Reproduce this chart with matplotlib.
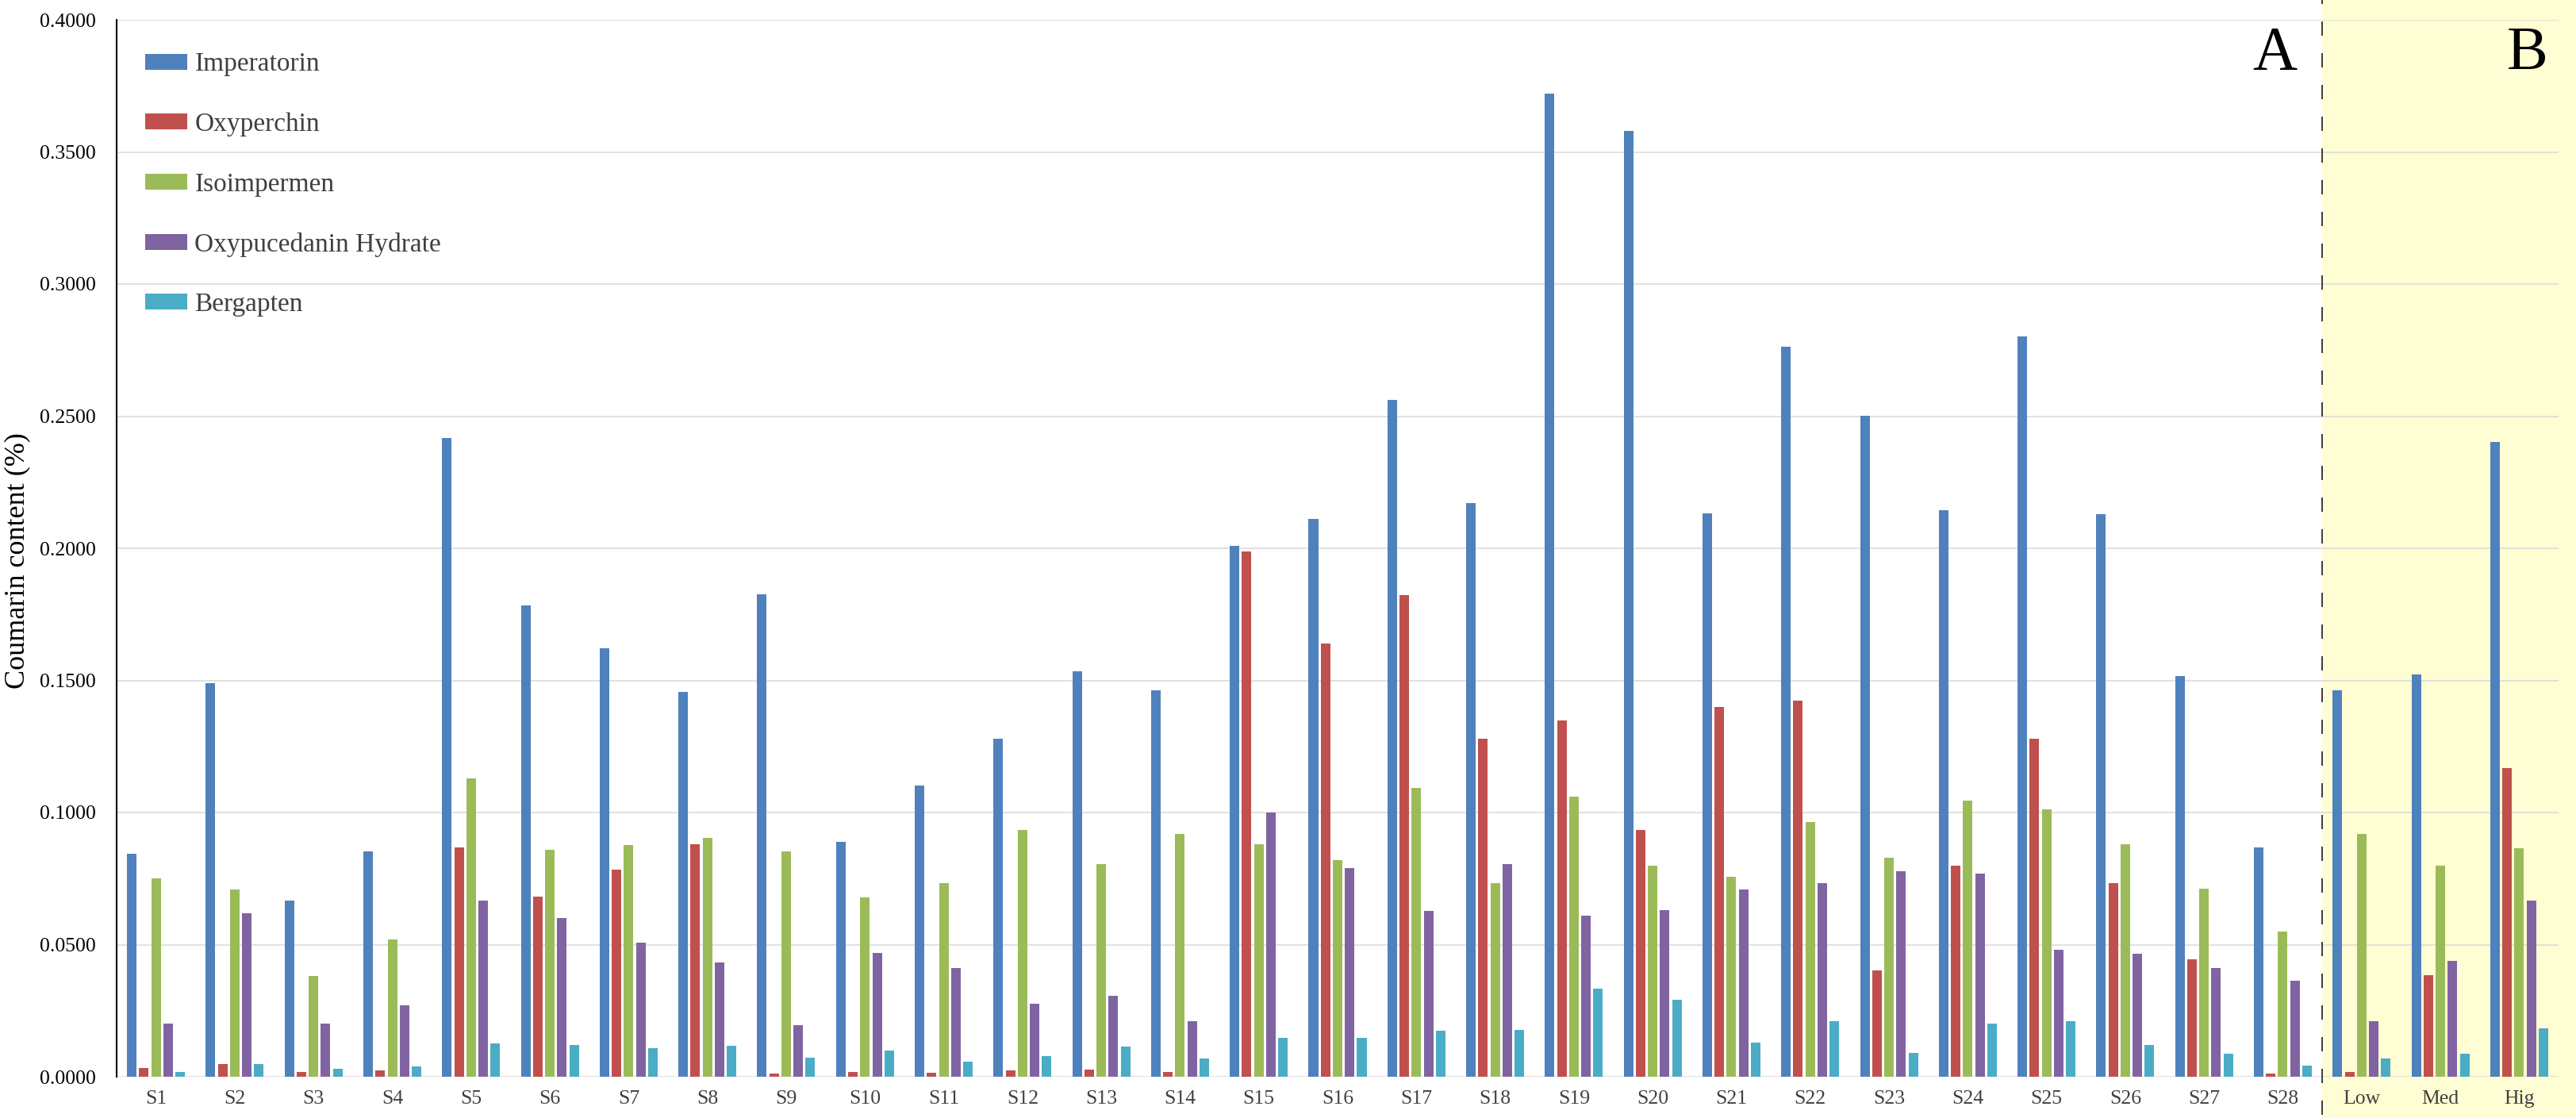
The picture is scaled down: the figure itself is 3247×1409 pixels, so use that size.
import numpy as np
import matplotlib
matplotlib.use("Agg")
import matplotlib.pyplot as plt
from matplotlib.patches import Rectangle
import matplotlib.transforms as mtransforms

plt.rcParams['font.family'] = ['Liberation Serif', 'DejaVu Serif']

# ------------------ DATOS ------------------
categorias = ["S%d" % i for i in range(1, 29)] + ["Low", "Med", "Hig"]

imperatorin = [0.0844, 0.1490, 0.0668, 0.0852, 0.2418, 0.1784, 0.1623, 0.1456, 0.1825, 0.0889,
               0.1102, 0.1278, 0.1534, 0.1461, 0.2008, 0.2110, 0.2563, 0.2170, 0.3722, 0.3580,
               0.2132, 0.2763, 0.2501, 0.2143, 0.2803, 0.2129, 0.1518, 0.0868,
               0.1461, 0.1523, 0.2402]
oxyperchin = [0.0032, 0.0049, 0.0019, 0.0024, 0.0868, 0.0682, 0.0784, 0.0881, 0.0013, 0.0019,
              0.0016, 0.0024, 0.0027, 0.0019, 0.1989, 0.1639, 0.1822, 0.1278, 0.1348, 0.0933,
              0.1399, 0.1423, 0.0402, 0.0798, 0.1280, 0.0733, 0.0445, 0.0013,
              0.0019, 0.0383, 0.1167]
isoimpermen = [0.0752, 0.0709, 0.0380, 0.0520, 0.1130, 0.0860, 0.0876, 0.0903, 0.0854, 0.0679,
               0.0733, 0.0935, 0.0806, 0.0919, 0.0881, 0.0819, 0.1094, 0.0733, 0.1059, 0.0800,
               0.0757, 0.0965, 0.0830, 0.1046, 0.1013, 0.0881, 0.0712, 0.0550,
               0.0919, 0.0798, 0.0865]
oxypucedanin = [0.0202, 0.0620, 0.0200, 0.0270, 0.0666, 0.0601, 0.0507, 0.0431, 0.0194, 0.0469,
                0.0410, 0.0275, 0.0305, 0.0210, 0.1000, 0.0790, 0.0628, 0.0806, 0.0609, 0.0631,
                0.0709, 0.0733, 0.0779, 0.0768, 0.0480, 0.0466, 0.0410, 0.0364,
                0.0210, 0.0437, 0.0668]
bergapten = [0.0019, 0.0049, 0.0030, 0.0038, 0.0127, 0.0119, 0.0108, 0.0116, 0.0073, 0.0100,
             0.0057, 0.0078, 0.0113, 0.0070, 0.0148, 0.0148, 0.0173, 0.0178, 0.0332, 0.0291,
             0.0129, 0.0210, 0.0089, 0.0202, 0.0210, 0.0121, 0.0086, 0.0043,
             0.0070, 0.0086, 0.0183]

series = [
    ("Imperatorin", imperatorin, "#4F81BD"),
    ("Oxyperchin", oxyperchin, "#C0504D"),
    ("Isoimpermen", isoimpermen, "#9BBB59"),
    ("Oxypucedanin Hydrate", oxypucedanin, "#8064A2"),
    ("Bergapten", bergapten, "#4BACC6"),
]

yticks = np.arange(0, 0.4001, 0.05)

# ------------------ GRAFICA ------------------
W, H = 3248, 1409
fig = plt.figure(figsize=(W / 100, H / 100), dpi=100)
ax = fig.add_axes([147 / W, 1 - 1357 / H, (3225 - 147) / W, (1357 - 25) / H])

x = np.arange(len(categorias))
paso = 0.1536
ancho = 0.121
for i, (nombre, valores, color) in enumerate(series):
    ax.bar(x + (i - 2) * paso, valores, width=ancho, color=color, label=nombre, zorder=2)

ax.set_xlim(-0.5, len(categorias) - 0.5)
ax.set_ylim(0, 0.4)
ax.set_yticks(yticks)
ax.set_yticklabels(["%.4f" % v for v in yticks])
ax.set_xticks(x)
ax.set_xticklabels(categorias)
ax.tick_params(axis='y', length=0, pad=19, labelsize=18.5, labelcolor='black')
ax.tick_params(axis='x', length=0, pad=12, labelsize=18.5, labelcolor='#404040')

ax.set_axisbelow(True)
ax.yaxis.grid(True, color='#D9D9D9', linewidth=1.1)
for lado in ['top', 'right', 'bottom']:
    ax.spines[lado].set_visible(False)
ax.spines['left'].set_color('black')
ax.spines['left'].set_linewidth(1.5)

ax.set_ylabel("Coumarin content (%)", fontsize=26)
ax.yaxis.set_label_coords(-(147 - 38) / (3225 - 147), (1357 - 707) / 1332)

# Zona B (fondo amarillo) y linea divisoria
trans = mtransforms.blended_transform_factory(ax.transData, fig.transFigure)
ax.add_patch(Rectangle((27.5, 0), 5, 1, transform=trans, facecolor='#FFFDD3',
                       edgecolor='none', zorder=-1, clip_on=False))
ax.axvline(27.5, ymin=-0.036, ymax=1.019, color='#404040', linewidth=1.44,
           linestyle=(0, (9, 11)), clip_on=False, zorder=3)

ax.text(26.9, 0.4 - (87 - 25) / 1332 * 0.4, "A", fontsize=56, ha='center',
        va='baseline', color='black')
ax.text(30.1, 0.4 - (87 - 25) / 1332 * 0.4, "B", fontsize=56, ha='center',
        va='baseline', color='black')

leg = ax.legend(loc='upper left', bbox_to_anchor=(183 / W, 1 - 66 / H),
                bbox_transform=fig.transFigure, frameon=False, fontsize=24,
                handlelength=1.6, handleheight=0.55, handletextpad=0.27,
                labelspacing=1.35, borderpad=0, borderaxespad=0)
for t in leg.get_texts():
    t.set_color('#404040')

fig.savefig("out.png", dpi=100)
